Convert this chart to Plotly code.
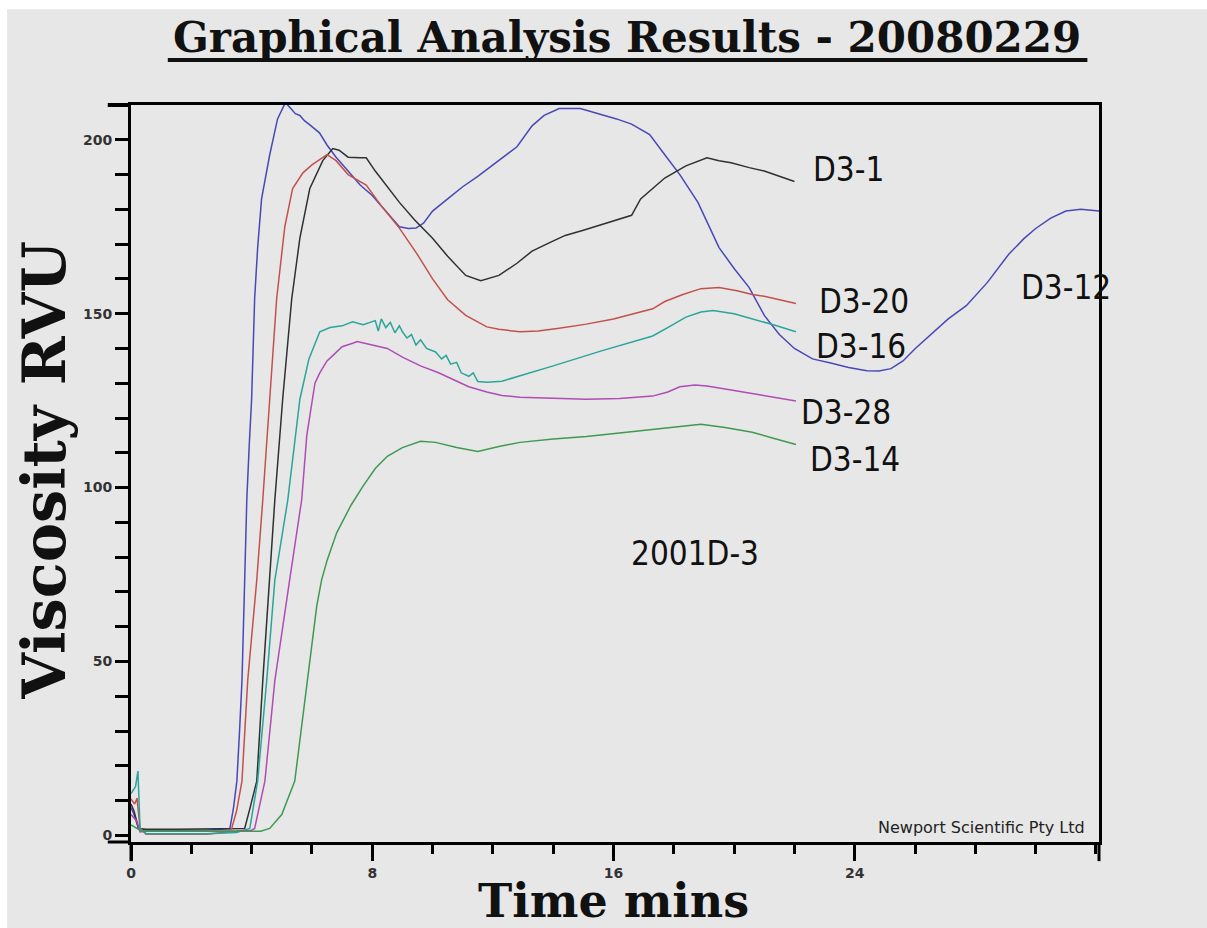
import plotly.graph_objects as go

# ---------------- data ----------------
d3_12_t = [0.0, 0.1, 0.25, 0.5, 1.5, 2.5, 3.0, 3.28, 3.4, 3.51, 3.6, 3.68, 3.77, 3.84, 3.92, 4.0, 4.1, 4.2, 4.33,
           4.6, 4.86, 5.12, 5.3, 5.45, 5.6, 5.75, 5.9, 6.25, 6.5, 6.8, 7.2, 7.6, 8.0, 8.5, 8.9, 9.2, 9.45, 9.7,
           10.0, 10.5, 11.0, 11.5, 12.2, 12.8, 13.3, 13.7, 14.2, 14.9, 15.5, 16.1, 16.6, 17.2, 17.7, 18.2, 18.8,
           19.5, 20.0, 20.5, 21.0, 21.5, 22.0, 22.6, 23.2, 23.8, 24.4, 24.8, 25.2, 25.6, 26.0, 26.6, 27.1, 27.7,
           28.4, 29.1, 29.6, 30.0, 30.5, 31.0, 31.5, 32.1]
d3_12_v = [8, 6, 2, 1.5, 1.5, 1.5, 1.8, 2, 8, 15.6, 30, 44.5, 73.4, 96.5, 112, 125.4, 154.3, 169, 183,
           195.7, 206, 210.7, 209, 207.5, 207, 205.5, 204.5, 202, 198.5, 195, 191, 187, 184, 179, 175, 174.5, 174.6, 176,
           179.5, 183, 186.5, 189.5, 194, 198, 204, 207, 209, 209, 207.5, 206, 204.5, 201.5, 195.7, 190, 182,
           169, 163, 157.5, 149.5, 144, 140, 137, 135.8, 134.5, 133.6, 133.5, 134.2, 136.4, 139.9, 144.5, 148.5, 152.3,
           159, 167, 171.5, 174.5, 177.5, 179.5, 180, 179.5]

d3_1_t = [0.0, 0.1, 0.25, 0.5, 1.5, 2.5, 3.5, 3.77, 3.95, 4.17, 4.37, 4.6, 4.77, 5.03, 5.33, 5.6, 5.93, 6.36, 6.69,
          6.9, 7.2, 7.6, 7.8, 8.1, 8.5, 8.9, 9.4, 10.0, 10.5, 11.1, 11.6, 12.2, 12.8, 13.3, 13.9, 14.4, 15.0, 15.5,
          16.1, 16.6, 16.9, 17.3, 17.7, 18.4, 19.1, 19.5, 19.9, 20.5, 21.0, 21.5, 22.0]
d3_1_v = [9, 7, 2, 1.8, 1.8, 1.8, 1.8, 2, 8, 15.6, 44.5, 73.4, 96.5, 125.4, 154.3, 171.7, 186, 194, 197.5,
          197, 195, 194.8, 194.8, 191, 186.5, 182, 177, 171.7, 166.5, 161, 159.5, 161, 164.5, 168, 170.5, 172.5, 174, 175.4,
          177, 178.3, 183, 186, 189, 192.5, 194.8, 194, 193.4, 192, 191, 189.5, 188]

d3_20_t = [0.0, 0.12, 0.2, 0.3, 0.5, 1.5, 2.5, 3.2, 3.34, 3.5, 3.68, 3.87, 4.17, 4.37, 4.6, 4.83, 5.1, 5.36, 5.7,
           6.0, 6.5, 6.8, 7.2, 7.8, 8.3, 8.9, 9.5, 10.0, 10.5, 11.1, 11.8, 12.2, 12.9, 13.5, 14.2, 15.1, 16.0, 16.6,
           17.3, 17.7, 18.3, 18.9, 19.5, 20.1, 20.6, 21.0, 21.5, 22.05]
d3_20_v = [10.5, 9, 10.7, 2, 0.3, 0.2, 0.3, 1, 2, 7, 15.6, 44.5, 73.4, 96.5, 125.4, 154.3, 175, 186, 190.5,
           192.8, 195.7, 194, 190, 187, 181, 174.6, 167, 160, 154, 149.5, 146.2, 145.5, 144.8, 145, 145.8, 147, 148.5, 149.8,
           151.4, 153.5, 155.5, 157.2, 157.5, 156.6, 155.5, 155, 154, 152.9]

d3_16_t = [0.0, 0.15, 0.23, 0.3, 0.5, 1.5, 2.5, 3.5, 3.94, 4.2, 4.5, 4.77, 5.2, 5.6, 5.9, 6.26, 6.6, 7.0, 7.35,
           7.7, 8.1, 8.2, 8.3, 8.45, 8.6, 8.75, 8.9, 9.0, 9.15, 9.3, 9.45, 9.6, 9.8, 10.1, 10.3, 10.45, 10.6, 10.8,
           10.95, 11.2, 11.35, 11.5, 11.8, 12.3, 13.0, 14.0, 15.6, 16.5, 17.3, 17.9, 18.4, 18.9, 19.3, 20.0, 20.6,
           21.3, 22.05]
d3_16_v = [12, 14, 18.5, 2, 0.5, 0.5, 0.5, 0.8, 2, 15.6, 44.5, 73.4, 96.5, 125.4, 137, 144.8, 146, 146.5, 147.7,
           146.8, 148, 145, 148.5, 146, 147.5, 144.5, 146.5, 144.8, 143, 144, 141, 142.5, 140, 139, 137, 138, 135.5, 136,
           133, 132, 133, 130.5, 130.3, 130.6, 132.5, 135, 139.3, 141.5, 143.6, 146.5, 149, 150.5, 150.9, 150, 148.6,
           146.8, 144.8]

d3_28_t = [0.0, 0.2, 0.3, 0.5, 1.5, 2.5, 3.5, 4.0, 4.1, 4.44, 4.77, 5.26, 5.66, 5.83, 6.1, 6.26, 6.5, 6.7, 7.0,
           7.35, 7.5, 8.0, 8.5, 9.0, 9.6, 10.2, 10.7, 11.2, 11.8, 12.3, 12.9, 14.0, 15.1, 16.2, 17.3, 17.8, 18.2,
           18.7, 19.1, 19.8, 20.6, 21.3, 22.05]
d3_28_v = [6, 4, 1, 1.2, 1.2, 1.2, 1.3, 1.5, 2, 15.6, 44.5, 73.4, 96.5, 115, 130, 133, 136.4, 138, 140.5,
           141.5, 142, 141, 140, 137.5, 135, 133, 131, 129, 127.5, 126.5, 126, 125.6, 125.4, 125.6, 126.3, 127.5, 129,
           129.5, 129.2, 128.2, 127, 126, 124.9]

d3_14_t = [0.0, 0.3, 0.5, 1.5, 2.5, 3.5, 4.3, 4.6, 5.0, 5.43, 5.86, 6.16, 6.32, 6.5, 6.82, 7.3, 7.7, 8.1, 8.5,
           9.0, 9.6, 10.1, 10.8, 11.5, 12.2, 12.9, 14.0, 15.1, 16.2, 17.3, 18.1, 18.9, 19.7, 20.6, 21.3, 22.05]
d3_14_v = [3, 1.5, 1.2, 1.2, 1.2, 1.2, 1.2, 2, 6, 15.6, 44.5, 66, 73.4, 79, 87, 95, 100.5, 105.5, 109,
           111.5, 113.3, 113, 111.5, 110.4, 111.8, 113, 114, 114.7, 115.7, 116.8, 117.6, 118.2, 117.3, 115.9, 114.2, 112.4]

series_names = ["D3-12", "D3-1", "D3-20", "D3-16", "D3-28", "D3-14"]
series_t = [d3_12_t, d3_1_t, d3_20_t, d3_16_t, d3_28_t, d3_14_t]
series_v = [d3_12_v, d3_1_v, d3_20_v, d3_16_v, d3_28_v, d3_14_v]
series_colors = ["#4848b8", "#2c3230", "#c4504c", "#2aa59a", "#b04cb4", "#3e9a50"]

# curve labels: (text, x, y) in data units
label_text = ["D3-1", "D3-20", "D3-16", "D3-28", "D3-14", "D3-12", "2001D-3"]
label_x = [23.8, 24.3, 24.2, 23.7, 24.0, 31.0, 18.7]
label_y = [191.5, 153.5, 140.5, 121.5, 108.0, 157.5, 81.0]

x_tickvals = [0, 8, 16, 24]
y_tickvals = [0, 50, 100, 150, 200]
x_range = [0, 32.1]
y_range = [-1.9, 210.0]

# ---------------- figure ----------------
fig = go.Figure()
for name, t, v, c in zip(series_names, series_t, series_v, series_colors):
    fig.add_trace(go.Scatter(x=t, y=v, mode="lines", name=name,
                             line=dict(color=c, width=1.5), showlegend=False))

label_font = dict(family="Liberation Sans Narrow, DejaVu Sans Condensed, Arial Narrow, sans-serif",
                  size=33, color="#111111")
for txt, lx, ly in zip(label_text, label_x, label_y):
    fig.add_annotation(x=lx, y=ly, xref="x", yref="y", text=txt, showarrow=False,
                       font=label_font, xanchor="center", yanchor="middle")

bg = "#e7e7e7"
fig.update_layout(
    width=1207, height=928,
    margin=dict(l=131, r=108, t=105, b=86),
    paper_bgcolor=bg, plot_bgcolor=bg,
    showlegend=False,
)

tickfont = dict(family="DejaVu Sans", size=14, color="#333333", weight="bold")
fig.update_xaxes(range=x_range, showgrid=False, zeroline=False,
                 showline=True, linecolor="black", linewidth=3, mirror=True,
                 tickmode="array", tickvals=x_tickvals, ticks="outside", ticklen=16, tickwidth=3,
                 tickcolor="black", tickfont=tickfont,
                 minor=dict(tickmode="linear", dtick=2, tick0=0, ticks="outside", ticklen=9,
                            tickwidth=3, tickcolor="black"))
fig.update_yaxes(range=y_range, showgrid=False, zeroline=False,
                 showline=True, linecolor="black", linewidth=3, mirror=True,
                 tickmode="array", tickvals=y_tickvals, ticks="outside", ticklen=13, tickwidth=3,
                 tickcolor="black", tickfont=tickfont,
                 minor=dict(tickmode="linear", dtick=10, tick0=0, ticks="outside", ticklen=13,
                            tickwidth=3, tickcolor="black"))

# title, axis titles, credit
fig.add_annotation(x=0.512, y=1.092, xref="paper", yref="paper", showarrow=False,
                   text="<b>Graphical Analysis Results - 20080229</b>",
                   font=dict(family="DejaVu Serif", size=42, color="#111111"),
                   xanchor="center", yanchor="middle")
fig.add_shape(type="line", xref="paper", yref="paper", x0=0.038, x1=0.988, y0=1.061, y1=1.061,
              line=dict(color="#111111", width=4))
fig.add_annotation(x=0.498, y=-0.0805, xref="paper", yref="paper", showarrow=False,
                   text="<b>Time mins</b>",
                   font=dict(family="DejaVu Serif", size=46, color="#111111"),
                   xanchor="center", yanchor="middle")
fig.add_annotation(x=-0.089, y=0.505, xref="paper", yref="paper", showarrow=False,
                   text="<b>Viscosity RVU</b>", textangle=-90,
                   font=dict(family="DejaVu Serif", size=59, color="#111111"),
                   xanchor="center", yanchor="middle")
fig.add_annotation(x=0.988, y=0.004, xref="paper", yref="paper", showarrow=False,
                   text="Newport Scientific Pty Ltd",
                   font=dict(family="DejaVu Sans", size=16, color="#222222"),
                   xanchor="right", yanchor="bottom")

# axis line extensions beyond the plot frame
fig.add_shape(type="line", xref="paper", yref="paper", x0=-0.024, x1=0, y0=1, y1=1,
              line=dict(color="black", width=4))
fig.add_shape(type="line", xref="paper", yref="paper", x0=-0.024, x1=0, y0=0, y1=0,
              line=dict(color="black", width=3))
fig.add_shape(type="line", xref="paper", yref="paper", x0=1, x1=1, y0=-0.026, y1=0,
              line=dict(color="black", width=3))
fig.add_shape(type="line", xref="paper", yref="paper", x0=0, x1=0, y0=-0.026, y1=0,
              line=dict(color="black", width=3))
# white strips along the top and left edges of the picture
fig.add_shape(type="rect", xref="paper", yref="paper", x0=-0.14, x1=1.12, y0=1.13, y1=1.16,
              line=dict(width=0), fillcolor="white", layer="below")
fig.add_shape(type="rect", xref="paper", yref="paper", x0=-0.14, x1=-0.128, y0=-0.13, y1=1.16,
              line=dict(width=0), fillcolor="white", layer="below")

fig.write_html("out.html", config={"displayModeBar": False},
               post_script="document.body.style.margin='0';document.body.style.overflow='hidden';")
